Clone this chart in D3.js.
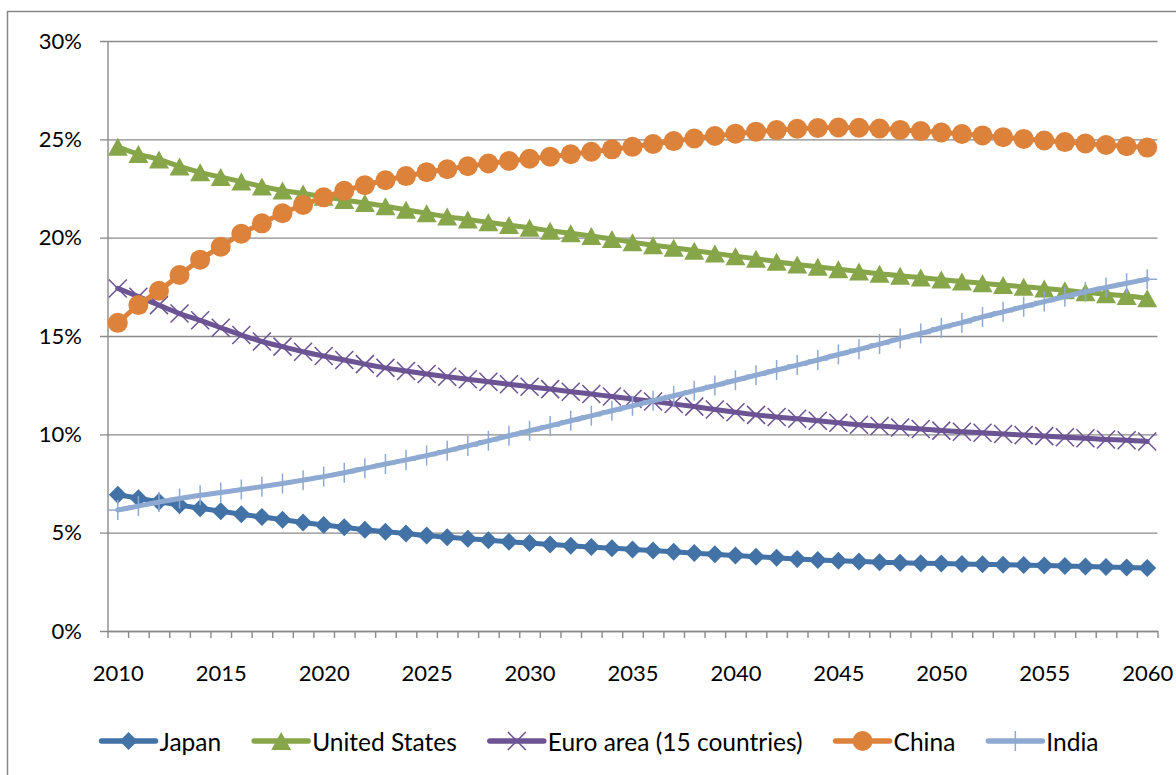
<!DOCTYPE html>
<html>
<head>
<meta charset="utf-8">
<script src="https://cdn.jsdelivr.net/npm/d3@7"></script>
<style>
  html, body { margin: 0; padding: 0; background: #fff; }
  svg { display: block; }
  text { font-family: Lato, "Open Sans", sans-serif; font-size: 22px; fill: #000; }
  .legend text { font-size: 24.5px; }
</style>
</head>
<body>
<svg id="chart" width="1176" height="775"></svg>
<script>
const years = d3.range(2010, 2061);
const xLabels = [2010, 2015, 2020, 2025, 2030, 2035, 2040, 2045, 2050, 2055, 2060];
const yTicks = [0, 5, 10, 15, 20, 25, 30];

const japan = [6.93, 6.75, 6.57, 6.40, 6.24, 6.09, 5.94, 5.80, 5.66, 5.52, 5.39, 5.27, 5.15, 5.05,
  4.96, 4.85, 4.77, 4.69, 4.62, 4.54, 4.47, 4.40, 4.33, 4.27, 4.21, 4.15, 4.09, 4.03, 3.96, 3.90, 3.84, 3.78, 3.72, 3.66,
  3.61, 3.57, 3.53, 3.50, 3.47, 3.45, 3.43, 3.41, 3.39, 3.37, 3.35, 3.33, 3.30, 3.28, 3.25, 3.23, 3.20];
const unitedStates = [24.62, 24.25, 23.98, 23.62, 23.32, 23.08, 22.85, 22.60, 22.40, 22.25, 22.08, 21.92, 21.76, 21.60,
  21.42, 21.24, 21.07, 20.93, 20.78, 20.64, 20.50, 20.35, 20.22, 20.08, 19.93, 19.77, 19.62, 19.49, 19.34, 19.20, 19.06, 18.93, 18.78, 18.64,
  18.52, 18.40, 18.28, 18.16, 18.06, 17.97, 17.87, 17.77, 17.68, 17.59, 17.50, 17.42, 17.33, 17.22, 17.12, 17.03, 16.92];
const euroArea = [17.42, 17.00, 16.57, 16.14, 15.80, 15.42, 15.05, 14.72, 14.46, 14.20, 13.98, 13.78, 13.57, 13.38,
  13.22, 13.07, 12.93, 12.80, 12.67, 12.55, 12.42, 12.30, 12.17, 12.05, 11.92, 11.80, 11.67, 11.54, 11.41, 11.26, 11.12, 10.99, 10.88, 10.79,
  10.69, 10.59, 10.49, 10.42, 10.35, 10.27, 10.19, 10.13, 10.08, 10.02, 9.96, 9.91, 9.85, 9.80, 9.74, 9.70, 9.64];
const china = [15.67, 16.57, 17.30, 18.10, 18.88, 19.54, 20.20, 20.73, 21.24, 21.66, 22.05, 22.38, 22.67, 22.92,
  23.13, 23.33, 23.48, 23.63, 23.77, 23.90, 24.01, 24.12, 24.24, 24.37, 24.49, 24.62, 24.76, 24.91, 25.04, 25.17, 25.29, 25.39, 25.47, 25.54,
  25.58, 25.60, 25.59, 25.55, 25.48, 25.42, 25.35, 25.27, 25.20, 25.11, 25.02, 24.94, 24.86, 24.79, 24.71, 24.65, 24.58];
const india = [6.15, 6.35, 6.56, 6.74, 6.90, 7.04, 7.19, 7.34, 7.50, 7.67, 7.85, 8.05, 8.27, 8.49,
  8.70, 8.92, 9.16, 9.41, 9.67, 9.93, 10.18, 10.43, 10.69, 10.94, 11.20, 11.45, 11.71, 11.96, 12.22, 12.48, 12.75, 13.01, 13.27, 13.52,
  13.78, 14.06, 14.32, 14.59, 14.87, 15.13, 15.42, 15.68, 15.97, 16.23, 16.49, 16.75, 17.00, 17.25, 17.47, 17.68, 17.89];

const seriesNames = ["Japan", "United States", "Euro area (15 countries)", "China", "India"];
const seriesValues = [japan, unitedStates, euroArea, china, india];
const seriesColors = ["#4372A7", "#87A64A", "#6C5394", "#DD823B", "#8FAAD2"];
const seriesMarkers = ["diamond", "triangle", "cross", "circle", "plus"];

const svg = d3.select("#chart");
const plotLeft = 107.5, plotRight = 1157.5, plotTop = 41, plotBottom = 631;

// outer border
svg.append("rect").attr("x", 7.5).attr("y", 11.5).attr("width", 1200).attr("height", 800)
  .attr("fill", "none").attr("stroke", "#888").attr("stroke-width", 1.5);

const x = d3.scaleLinear().domain([2009.5, 2060.5]).range([plotLeft, plotRight]);
const y = d3.scaleLinear().domain([0, 30]).range([plotBottom, plotTop]);

// y gridlines + labels
const yAxis = svg.append("g").attr("transform", `translate(100,0)`)
  .call(d3.axisLeft(y).tickValues(yTicks).tickSizeInner(-(plotRight - 100)).tickSizeOuter(0)
    .tickPadding(18).tickFormat(d => d + "%"));
yAxis.select(".domain").remove();
yAxis.selectAll(".tick line").attr("stroke", "#8a8a8a").attr("stroke-width", 1.4);
yAxis.selectAll(".tick text").attr("fill", null);
yAxis.attr("font-family", null).attr("font-size", null);

// y axis line
svg.append("g").attr("transform", `translate(${plotLeft},0)`)
  .call(d3.axisLeft(y).tickValues([]).tickSizeOuter(0))
  .select(".domain").attr("stroke", "#8a8a8a").attr("stroke-width", 1.4);

// x axis: tick marks at category boundaries
const boundaries = d3.range(2009.5, 2061, 1);
const xAxis = svg.append("g").attr("transform", `translate(0,${plotBottom})`)
  .call(d3.axisBottom(x).tickValues(boundaries).tickSizeInner(7).tickSizeOuter(0).tickFormat(""));
xAxis.selectAll("line, path").attr("stroke", "#8a8a8a").attr("stroke-width", 1.4);

// x labels
const xLab = svg.append("g").attr("transform", `translate(0,${plotBottom})`)
  .call(d3.axisBottom(x).tickValues(xLabels).tickSize(0).tickPadding(34).tickFormat(d3.format("d")));
xLab.select(".domain").remove();
xLab.attr("font-family", null).attr("font-size", null);
xLab.selectAll(".tick text").attr("fill", null);

function drawMarker(g, type, color, cx, cy) {
  if (type === "diamond") {
    const s = 9;
    g.append("path").attr("d", `M${cx},${cy - s}L${cx + s},${cy}L${cx},${cy + s}L${cx - s},${cy}Z`).attr("fill", color);
  } else if (type === "triangle") {
    const w = 10, h = 9;
    g.append("path").attr("d", `M${cx},${cy - h}L${cx + w},${cy + h}L${cx - w},${cy + h}Z`).attr("fill", color);
  } else if (type === "circle") {
    g.append("circle").attr("cx", cx).attr("cy", cy).attr("r", 10).attr("fill", color);
  } else if (type === "cross") {
    const s = 9;
    g.append("path").attr("d", `M${cx - s},${cy - s}L${cx + s},${cy + s}M${cx - s},${cy + s}L${cx + s},${cy - s}`)
      .attr("stroke", color).attr("stroke-width", 1.5).attr("fill", "none");
  } else if (type === "plus") {
    const s = 10;
    g.append("path").attr("d", `M${cx - s},${cy}L${cx + s},${cy}M${cx},${cy - s}L${cx},${cy + s}`)
      .attr("stroke", color).attr("stroke-width", 1.5).attr("fill", "none");
  }
}

const line = d3.line().x((d, i) => x(years[i])).y(d => y(d)).curve(d3.curveCatmullRom.alpha(0.5));

seriesValues.forEach((vals, si) => {
  const g = svg.append("g");
  g.append("path").datum(vals).attr("d", line).attr("fill", "none")
    .attr("stroke", seriesColors[si]).attr("stroke-width", 5).attr("stroke-linejoin", "round").attr("stroke-linecap", "round");
  vals.forEach((v, i) => drawMarker(g, seriesMarkers[si], seriesColors[si], x(years[i]), y(v)));
});

// legend
const legY = 741;
const leg = svg.append("g").attr("class", "legend");
const items = seriesNames.map((name, i) => {
  const t = leg.append("text").text(name).attr("dominant-baseline", "central");
  return { t, w: t.node().getComputedTextLength(), i };
});
const lineLen = 54, textGap = 4, itemGap = 33;
const total = d3.sum(items, d => lineLen + textGap + d.w) + itemGap * (items.length - 1);
let lx = 600 - total / 2;
items.forEach(d => {
  const c = seriesColors[d.i];
  leg.append("line").attr("x1", lx).attr("x2", lx + lineLen).attr("y1", legY).attr("y2", legY)
    .attr("stroke", c).attr("stroke-width", 5.5).attr("stroke-linecap", "round");
  drawMarker(leg, seriesMarkers[d.i], c, lx + lineLen / 2, legY);
  d.t.attr("x", lx + lineLen + textGap).attr("y", legY);
  d.t.raise();
  lx += lineLen + textGap + d.w + itemGap;
});
</script>
</body>
</html>
